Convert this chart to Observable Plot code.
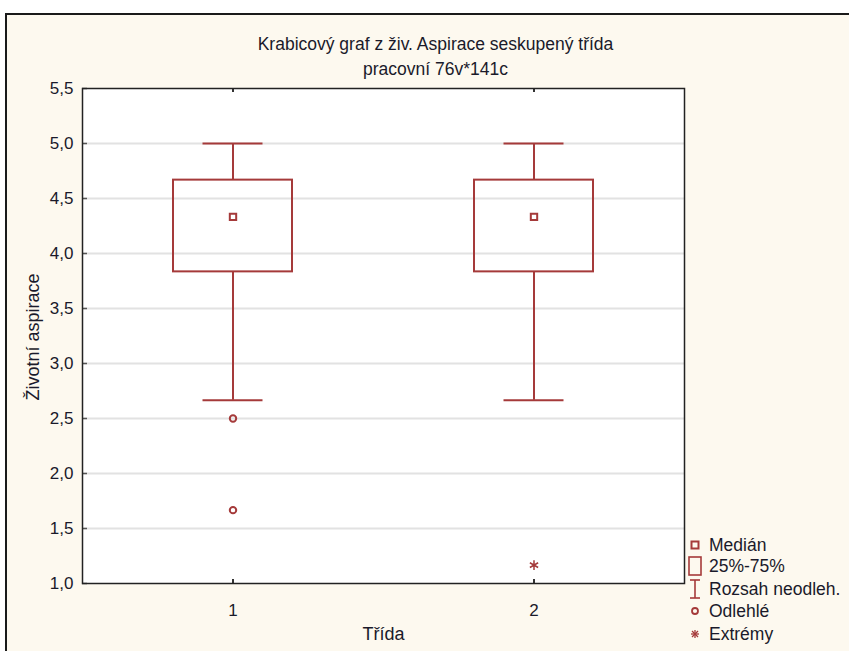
<!DOCTYPE html>
<html><head><meta charset="utf-8">
<script src="https://cdn.jsdelivr.net/npm/d3@7"></script>
<script src="https://cdn.jsdelivr.net/npm/@observablehq/plot@0.6"></script>
<style>
body{margin:0;background:#fff;font-family:"Liberation Sans",Arial,sans-serif;}
#wrap{position:relative;width:849px;height:651px;overflow:hidden;}
#panel{position:absolute;left:5px;top:13px;width:900px;height:700px;border-left:2px solid #1a1a1a;border-top:2px solid #1a1a1a;background:#fdf9ef;}
#chart{position:absolute;left:0;top:0;}
#chart g[aria-label="y-axis tick label"], #chart g[aria-label="x-axis tick label"]{font-size:17px;}
#legend{position:absolute;left:688px;top:535px;font-size:17.5px;color:#1a1a2a;}
.row{position:absolute;left:0;height:22px;line-height:22px;white-space:nowrap;display:flex;align-items:center;}
.row svg{margin-right:7px;}
</style></head>
<body>
<div id="wrap"><div id="panel"></div><div id="chart"></div><div id="legend"></div></div>
<script>
const classes = [1, 2];
const medians = [4.333, 4.333];
const q1 = [3.833, 3.833];
const q3 = [4.667, 4.667];
const whiskerLow = [2.667, 2.667];
const whiskerHigh = [5.0, 5.0];
const outlierClass = [1, 1];
const outlierValues = [2.5, 1.667];
const extremeClass = [2];
const extremeValues = [1.167];
const yTicks = [1.0, 1.5, 2.0, 2.5, 3.0, 3.5, 4.0, 4.5, 5.0, 5.5];
const legendLabels = ["Medián", "25%-75%", "Rozsah neodleh.", "Odlehlé", "Extrémy"];
const titleLines = ["Krabicový graf z živ. Aspirace seskupený třída", "pracovní 76v*141c"];
const xLabel = "Třída";
const yLabel = "Životní aspirace";

const red = "#a53a3a";
const ink = "#1a1a2a";
const boxes = classes.map((c, i) => ({c, med: medians[i], q1: q1[i], q3: q3[i], lo: whiskerLow[i], hi: whiskerHigh[i]}));
const outliers = outlierClass.map((c, i) => ({c, v: outlierValues[i]}));
const extremes = extremeClass.map((c, i) => ({c, v: extremeValues[i]}));
const fmt = d => d.toFixed(1).replace(".", ",");
const innerH = 651 - 88 - 68;
const innerW = 849 - 82 - 165;

const chart = Plot.plot({
  width: 849, height: 651,
  marginLeft: 82, marginRight: 165, marginTop: 88, marginBottom: 68,
  style: {background: "transparent", fontFamily: "Liberation Sans, Arial, sans-serif", fontSize: "17px", color: ink},
  x: {type: "band", domain: classes, paddingInner: 0.605, paddingOuter: 0.3025},
  y: {domain: [1, 5.5]},
  marks: [
    Plot.frame({fill: "white"}),
    Plot.ruleY(yTicks.slice(1, -1), {y: d => d, stroke: "#e2e2e2", strokeWidth: 2}),
    Plot.axisY({ticks: yTicks, tickSize: 0, tickPadding: 9, tickFormat: fmt, label: null, fontSize: 17, fill: ink}),
    Plot.axisX({tickSize: 0, tickPadding: 20, label: null, fontSize: 17, fill: ink}),
    Plot.ruleY(yTicks, {y: d => d, insetRight: innerW - 5, stroke: "#555", strokeWidth: 1.5}),
    Plot.ruleX(classes, {x: d => d, insetTop: innerH - 4, stroke: "#333", strokeWidth: 2}),
    Plot.ruleX(classes, {x: d => d, insetBottom: innerH - 4, stroke: "#333", strokeWidth: 2}),
    Plot.ruleX(boxes, {x: "c", y1: "lo", y2: "q1", stroke: red, strokeWidth: 2}),
    Plot.ruleX(boxes, {x: "c", y1: "q3", y2: "hi", stroke: red, strokeWidth: 2}),
    Plot.tickY(boxes, {x: "c", y: "lo", insetLeft: 29.5, insetRight: 29.5, stroke: red, strokeWidth: 2}),
    Plot.tickY(boxes, {x: "c", y: "hi", insetLeft: 29.5, insetRight: 29.5, stroke: red, strokeWidth: 2}),
    Plot.barY(boxes, {x: "c", y1: "q1", y2: "q3", fill: "none", stroke: red, strokeWidth: 2}),
    Plot.dot(boxes, {x: "c", y: "med", symbol: "square", r: 3.6, stroke: red, strokeWidth: 2}),
    Plot.dot(outliers, {x: "c", y: "v", symbol: "circle", r: 3.2, stroke: red, strokeWidth: 2}),
    Plot.dot(extremes, {x: "c", y: "v", symbol: "asterisk", r: 4.5, stroke: red, strokeWidth: 1.5}),
    Plot.frame({stroke: "#222", strokeWidth: 1.5}),
    Plot.text([titleLines[0]], {frameAnchor: "top", dx: 52, dy: -51, fontSize: 17.5, fill: ink}),
    Plot.text([titleLines[1]], {frameAnchor: "top", dx: 52, dy: -26, fontSize: 17.5, fill: ink}),
    Plot.text([xLabel], {frameAnchor: "bottom", dy: 56, fontSize: 18, fill: ink}),
    Plot.text([yLabel], {frameAnchor: "left", textAnchor: "middle", dx: -49, dy: 1, rotate: -90, fontSize: 18, fill: ink})
  ]
});
document.getElementById("chart").append(chart);

const sym = [
  `<svg width="14" height="20"><rect x="3.5" y="6.5" width="7" height="7" fill="none" stroke="${red}" stroke-width="2"/></svg>`,
  `<svg width="14" height="22"><rect x="1" y="2" width="12" height="18" fill="none" stroke="${red}" stroke-width="1.6"/></svg>`,
  `<svg width="14" height="22"><line x1="2" y1="2" x2="12" y2="2" stroke="${red}" stroke-width="1.6"/><line x1="7" y1="2" x2="7" y2="20" stroke="${red}" stroke-width="1.6"/><line x1="2" y1="20" x2="12" y2="20" stroke="${red}" stroke-width="1.6"/></svg>`,
  `<svg width="14" height="20"><circle cx="7" cy="10" r="3" fill="none" stroke="${red}" stroke-width="1.8"/></svg>`,
  `<svg width="14" height="20"><g stroke="${red}" stroke-width="1.3"><line x1="3" y1="10" x2="11" y2="10"/><line x1="7" y1="6" x2="7" y2="14"/><line x1="4" y1="7" x2="10" y2="13"/><line x1="10" y1="7" x2="4" y2="13"/></g></svg>`
];
const centers = [545, 566, 589, 611, 634];
const leg = document.getElementById("legend");
legendLabels.forEach((t, i) => {
  const r = document.createElement("div");
  r.className = "row";
  r.style.top = (centers[i] - 535 - 11) + "px";
  r.innerHTML = sym[i] + `<span>${t}</span>`;
  leg.append(r);
});
</script>
</body></html>
